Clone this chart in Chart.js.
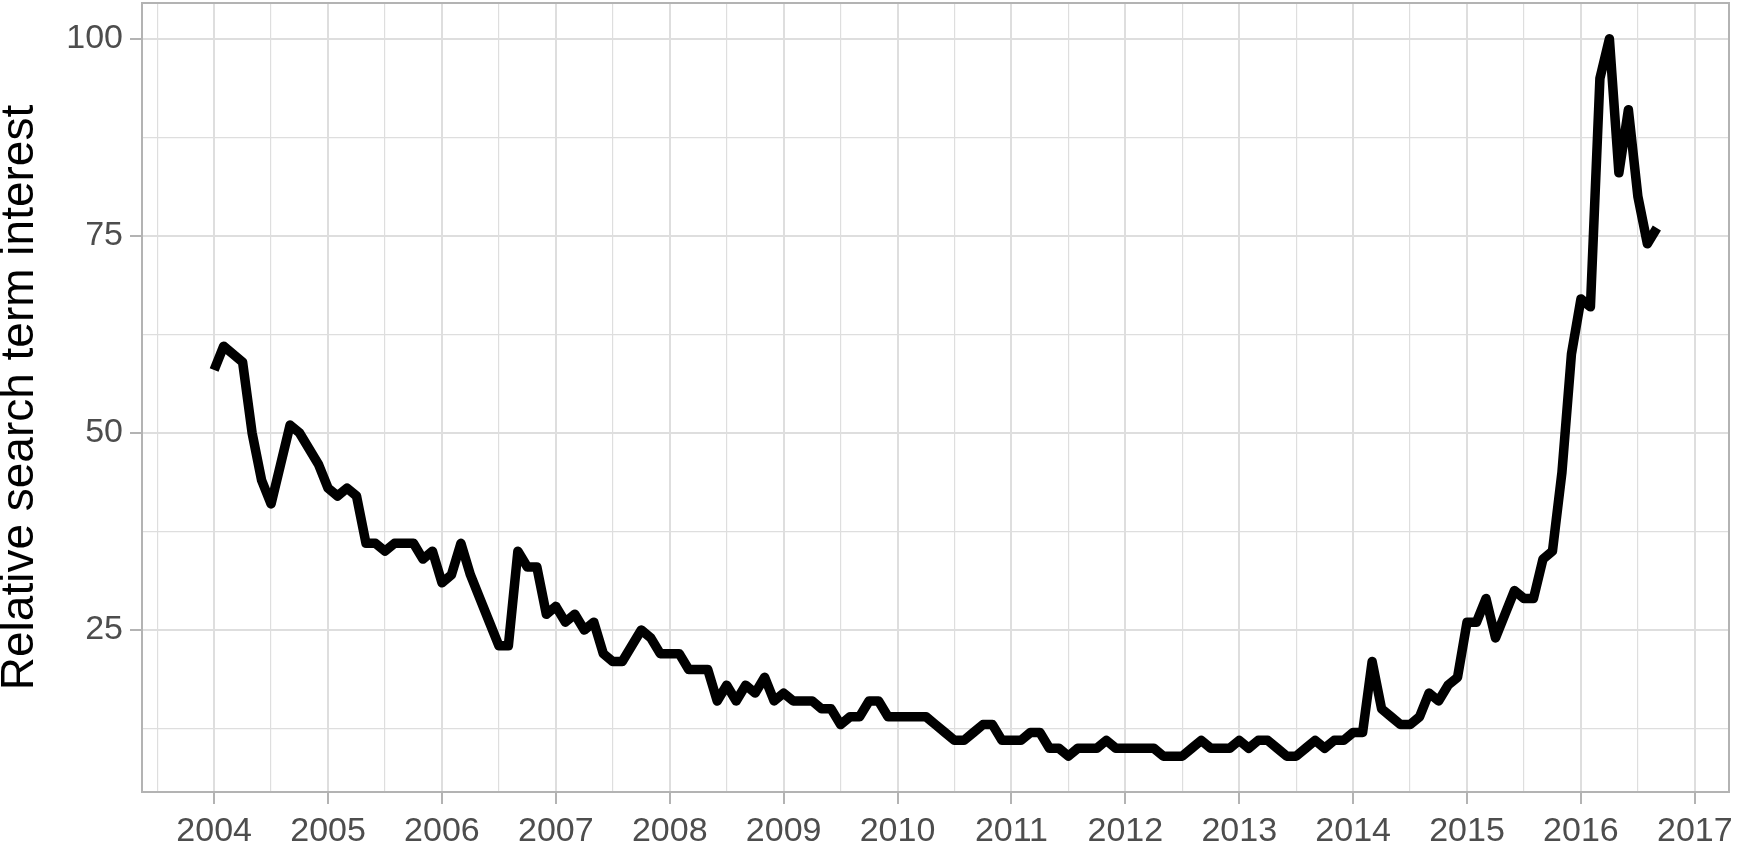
<!DOCTYPE html>
<html>
<head>
<meta charset="utf-8">
<script src="https://cdn.jsdelivr.net/npm/chart.js@4/dist/chart.umd.min.js"></script>
<style>
  html, body { margin: 0; padding: 0; background: #fff; }
  #wrap { width: 1737px; height: 846px; position: relative; }
</style>
</head>
<body>
<div id="wrap"><canvas id="chart"></canvas></div>
<script>
// monthly relative search interest, Jan 2004 .. Sep 2016
const startYear = 2004;
const interest2004 = [58, 61, 60, 59, 50, 44, 41, 46, 51, 50, 48, 46];
const interest2005 = [43, 42, 43, 42, 36, 36, 35, 36, 36, 36, 34, 35];
const interest2006 = [31, 32, 36, 32, 29, 26, 23, 23, 35, 33, 33, 27];
const interest2007 = [28, 26, 27, 25, 26, 22, 21, 21, 23, 25, 24, 22];
const interest2008 = [22, 22, 20, 20, 20, 16, 18, 16, 18, 17, 19, 16];
const interest2009 = [17, 16, 16, 16, 15, 15, 13, 14, 14, 16, 16, 14];
const interest2010 = [14, 14, 14, 14, 13, 12, 11, 11, 12, 13, 13, 11];
const interest2011 = [11, 11, 12, 12, 10, 10, 9, 10, 10, 10, 11, 10];
const interest2012 = [10, 10, 10, 10, 9, 9, 9, 10, 11, 10, 10, 10];
const interest2013 = [11, 10, 11, 11, 10, 9, 9, 10, 11, 10, 11, 11];
const interest2014 = [12, 12, 21, 15, 14, 13, 13, 14, 17, 16, 18, 19];
const interest2015 = [26, 26, 29, 24, 27, 30, 29, 29, 34, 35, 45, 60];
const interest2016 = [67, 66, 95, 100, 83, 91, 80, 74, 76];

const xTicks = [2003.5, 2004, 2004.5, 2005, 2005.5, 2006, 2006.5, 2007, 2007.5, 2008, 2008.5,
  2009, 2009.5, 2010, 2010.5, 2011, 2011.5, 2012, 2012.5, 2013, 2013.5, 2014, 2014.5,
  2015, 2015.5, 2016, 2016.5, 2017];
const yTicks = [12.5, 25, 37.5, 50, 62.5, 75, 87.5, 100];

const allValues = [].concat(interest2004, interest2005, interest2006, interest2007,
  interest2008, interest2009, interest2010, interest2011, interest2012, interest2013,
  interest2014, interest2015, interest2016);
const points = allValues.map((v, i) => ({ x: startYear + i / 12, y: v }));

// ggplot style 5% expansion
const xFirst = points[0].x, xLast = points[points.length - 1].x;
const xPad = (xLast - xFirst) * 0.05;
const yMin = Math.min(...allValues), yMax = Math.max(...allValues);
const yPad = (yMax - yMin) * 0.05;

const gridCol = '#DEDEDE';
const axisCol = '#B3B3B3';
const fontFamily = '"Liberation Sans", Arial, sans-serif';

const panelBorder = {
  id: 'panelBorder',
  afterDatasetsDraw(chart) {
    const { ctx, chartArea: a } = chart;
    ctx.save();
    ctx.strokeStyle = axisCol;
    ctx.lineWidth = 2;
    ctx.strokeRect(a.left, a.top, a.right - a.left, a.bottom - a.top);
    ctx.restore();
  }
};

new Chart(document.getElementById('chart'), {
  type: 'line',
  data: {
    datasets: [{
      data: points,
      borderColor: '#000',
      borderWidth: 9.5,
      borderCapStyle: 'butt',
      borderJoinStyle: 'round',
      pointRadius: 0,
      tension: 0,
      fill: false
    }]
  },
  options: {
    responsive: true,
    maintainAspectRatio: false,
    animation: false,
    layout: { padding: { top: 3, right: 8, left: 0, bottom: 0 } },
    plugins: { legend: { display: false }, tooltip: { enabled: false } },
    scales: {
      x: {
        type: 'linear',
        min: xFirst - xPad,
        max: xLast + xPad,
        afterBuildTicks: s => { s.ticks = xTicks.map(v => ({ value: v })); },
        afterFit: s => { s.height = 54; s.paddingLeft = 0; s.paddingRight = 0; },
        border: { display: false },
        grid: {
          color: gridCol,
          lineWidth: c => (c.tick && c.tick.value % 1 !== 0) ? 1.2 : 2,
          tickColor: c => (c.tick && c.tick.value % 1 !== 0) ? 'rgba(0,0,0,0)' : axisCol,
          tickWidth: 2,
          tickLength: 12
        },
        ticks: {
          autoSkip: false,
          maxRotation: 0,
          padding: 7,
          color: '#4D4D4D',
          font: { family: fontFamily, size: 34 },
          callback: v => v % 1 === 0 ? String(v) : ''
        }
      },
      y: {
        min: yMin - yPad,
        max: yMax + yPad,
        afterBuildTicks: s => { s.ticks = yTicks.map(v => ({ value: v })); },
        afterFit: s => { s.width = 142; s.paddingTop = 0; s.paddingBottom = 0; },
        border: { display: false },
        grid: {
          color: gridCol,
          lineWidth: c => (c.tick && c.tick.value % 25 !== 0) ? 1.2 : 2,
          tickColor: c => (c.tick && c.tick.value % 25 !== 0) ? 'rgba(0,0,0,0)' : axisCol,
          tickWidth: 2,
          tickLength: 12
        },
        ticks: {
          padding: 7,
          color: '#4D4D4D',
          font: { family: fontFamily, size: 34 },
          callback: v => v % 25 === 0 ? String(v) : ''
        },
        title: {
          display: true,
          text: 'Relative search term interest',
          color: '#000',
          padding: 0,
          font: { family: fontFamily, size: 46, lineHeight: 0.88 }
        }
      }
    }
  },
  plugins: [panelBorder]
});
</script>
</body>
</html>
